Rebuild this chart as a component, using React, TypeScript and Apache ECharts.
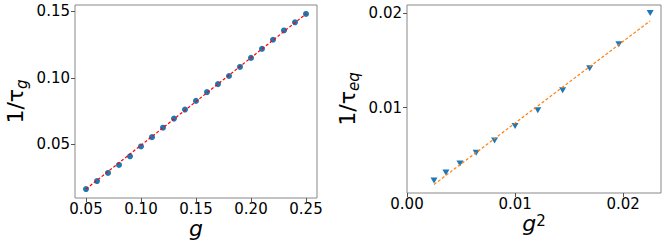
import React, { useEffect, useRef } from "react";
import * as echarts from "echarts";

// Left panel: 1/tau_g vs g
const gValues = [0.05, 0.06, 0.07, 0.08, 0.09, 0.10, 0.11, 0.12, 0.13, 0.14, 0.15, 0.16, 0.17, 0.18, 0.19, 0.20, 0.21, 0.22, 0.23, 0.24, 0.25];
const invTauG = [0.0165, 0.0225, 0.0286, 0.0346, 0.0411, 0.0485, 0.0555, 0.0626, 0.0694, 0.0762, 0.0827, 0.0893, 0.0953, 0.1014, 0.1082, 0.1150, 0.1218, 0.1286, 0.1356, 0.1417, 0.1480];
const fitGx = [0.05, 0.25];
const fitGy = [0.0165, 0.148];
const leftXTicks = [0.05, 0.10, 0.15, 0.20, 0.25];
const leftYTicks = [0.05, 0.10, 0.15];

// Right panel: 1/tau_eq vs g^2
const g2Values = [0.0025, 0.0036, 0.0049, 0.0064, 0.0081, 0.0100, 0.0121, 0.0144, 0.0169, 0.0196, 0.0225];
const invTauEq = [0.00227, 0.00312, 0.00407, 0.00521, 0.00652, 0.00804, 0.00971, 0.01184, 0.01418, 0.01673, 0.02006];
const fitEqX = [0.0025, 0.0225];
const fitEqY = [0.00184, 0.01921];
const rightXTicks = [0.0, 0.01, 0.02];
const rightYTicks = [0.01, 0.02];

const FONT = "DejaVu Sans";

function valueAxis(gridIndex: number, min: number, max: number, ticks: number[], isX: boolean, extra: any) {
  return {
    type: "value",
    gridIndex,
    min,
    max,
    axisLine: { show: false, onZero: false },
    splitLine: { show: false },
    axisTick: {
      show: true,
      length: 4,
      customValues: ticks,
      lineStyle: { color: "#555", width: 1 },
    },
    axisLabel: {
      show: true,
      customValues: ticks,
      margin: isX ? 3 : 5,
      fontFamily: FONT,
      fontSize: 15,
      color: "#000",
      formatter: (v: number) => v.toFixed(2),
    },
    nameMoveOverlap: false,
    ...extra,
  };
}

const yNameRich = {
  m: { fontFamily: FONT, fontSize: 22, lineHeight: 22, color: "#000" },
  s: { fontFamily: FONT, fontSize: 15, fontStyle: "italic", lineHeight: 22, padding: [13, 0, 0, 0], color: "#000" },
};

export default function App() {
  const ref = useRef<HTMLDivElement>(null);
  useEffect(() => {
    document.body.style.margin = "0";
    if (!ref.current) return;
    const chart = echarts.init(ref.current, undefined, { renderer: "svg" });
    const gridStyle = { show: true, borderColor: "#888", borderWidth: 1, containLabel: false };
    chart.setOption({
      animation: false,
      backgroundColor: "#fff",
      textStyle: { fontFamily: FONT },
      grid: [
        { ...gridStyle, left: 70, top: 5, width: 247, height: 193 },
        { ...gridStyle, left: 407, top: 5, width: 254, height: 188 },
      ],
      xAxis: [
        valueAxis(0, 0.04, 0.26, leftXTicks, true, {
          name: "{m|g}",
          nameLocation: "middle",
          nameGap: 23,
          nameTextStyle: {
            fontFamily: FONT,
            rich: { m: { fontFamily: FONT, fontSize: 22, fontStyle: "italic", lineHeight: 14, color: "#000" } },
          },
        }),
        valueAxis(1, 0, 0.0235, rightXTicks, true, {
          name: "{m|g}{s|2}",
          nameLocation: "middle",
          nameGap: 23,
          nameTextStyle: {
            fontFamily: FONT,
            rich: {
              m: { fontFamily: FONT, fontSize: 22, fontStyle: "italic", lineHeight: 14, color: "#000" },
              s: { fontFamily: FONT, fontSize: 15, lineHeight: 14, padding: [0, 0, 4, 0], color: "#000" },
            },
          },
        }),
      ],
      yAxis: [
        valueAxis(0, 0.0098, 0.1547, leftYTicks, false, {
          name: "{m|1/τ}{s|g}",
          nameLocation: "middle",
          nameRotate: 90,
          nameGap: 49,
          nameTextStyle: { fontFamily: FONT, rich: yNameRich },
        }),
        valueAxis(1, 0.00093, 0.0209, rightYTicks, false, {
          name: "{m|1/τ}{s|eq}",
          nameLocation: "middle",
          nameRotate: 90,
          nameGap: 49,
          nameTextStyle: { fontFamily: FONT, rich: yNameRich },
        }),
      ],
      series: [
        {
          type: "scatter",
          xAxisIndex: 0,
          yAxisIndex: 0,
          data: gValues.map((g, i) => [g, invTauG[i]]),
          symbol: "circle",
          symbolSize: 6,
          itemStyle: { color: "#1f77b4", opacity: 1 },
          z: 2,
        },
        {
          type: "line",
          xAxisIndex: 0,
          yAxisIndex: 0,
          data: fitGx.map((x, i) => [x, fitGy[i]]),
          showSymbol: false,
          symbol: "none",
          lineStyle: { color: "#ff0000", width: 1.2, type: [3, 2] },
          z: 3,
        },
        {
          type: "scatter",
          xAxisIndex: 1,
          yAxisIndex: 1,
          data: g2Values.map((g, i) => [g, invTauEq[i]]),
          symbol: "triangle",
          symbolRotate: 180,
          symbolSize: [7, 6],
          itemStyle: { color: "#1f77b4", opacity: 1 },
          z: 2,
        },
        {
          type: "line",
          xAxisIndex: 1,
          yAxisIndex: 1,
          data: fitEqX.map((x, i) => [x, fitEqY[i]]),
          showSymbol: false,
          symbol: "none",
          lineStyle: { color: "#ff7f0e", width: 1.2, type: [3, 2] },
          z: 3,
        },
      ],
    });
    return () => chart.dispose();
  }, []);
  return <div ref={ref} style={{ width: 665, height: 244 }} />;
}
